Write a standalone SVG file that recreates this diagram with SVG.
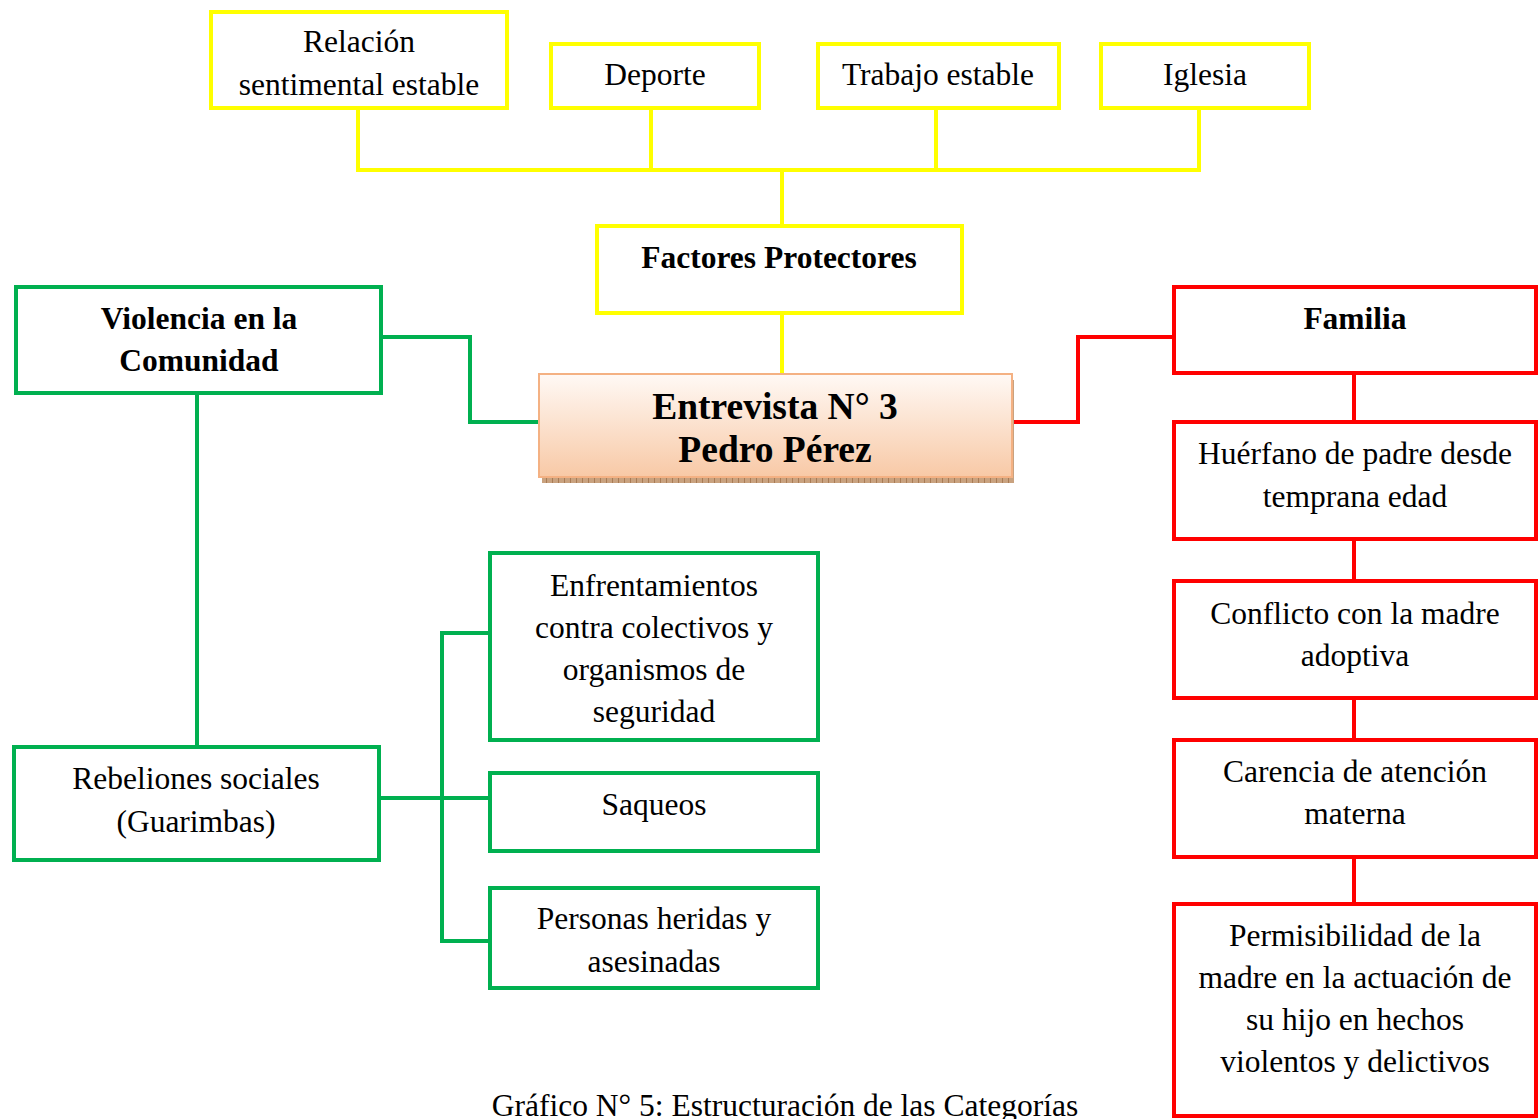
<svg xmlns="http://www.w3.org/2000/svg" width="1538" height="1119" viewBox="0 0 1538 1119">
<defs>
<style>
.t{font-family:"Liberation Serif","Times New Roman",serif;font-size:31.5px;fill:#000;text-anchor:middle}
.b{font-weight:bold}
.y{fill:#fff;stroke:#FFFF00;stroke-width:4}
.g{fill:#fff;stroke:#00B050;stroke-width:4}
.r{fill:#fff;stroke:#FF0000;stroke-width:4}
.cy{fill:none;stroke:#FFFF00;stroke-width:4}
.cg{fill:none;stroke:#00B050;stroke-width:4}
.cr{fill:none;stroke:#FF0000;stroke-width:4}
</style>
<linearGradient id="peach" x1="0" y1="0" x2="0" y2="1">
<stop offset="0" stop-color="#FFF9F5"/>
<stop offset="1" stop-color="#F8C9A6"/>
</linearGradient>
<pattern id="sh" width="6" height="6" patternUnits="userSpaceOnUse">
<rect width="6" height="6" fill="#C9A27F"/>
<rect x="0" y="0" width="1" height="6" fill="#A87B55"/>
</pattern>
</defs>
<rect width="1538" height="1119" fill="#fff"/>
<g id="connectors">
<polyline class="cy" points="358,108 358,170 1199,170 1199,108"/>
<line class="cy" x1="651" y1="108" x2="651" y2="170"/>
<line class="cy" x1="936" y1="108" x2="936" y2="170"/>
<line class="cy" x1="782" y1="170" x2="782" y2="226"/>
<line class="cy" x1="782" y1="313" x2="782" y2="374"/>
<polyline class="cg" points="381,337 470,337 470,422 539,422"/>
<line class="cg" x1="197" y1="393" x2="197" y2="747"/>
<line class="cg" x1="379" y1="798" x2="490" y2="798"/>
<polyline class="cg" points="490,633 442,633 442,941 490,941"/>
<polyline class="cr" points="1013,422 1078,422 1078,337 1174,337"/>
<line class="cr" x1="1354" y1="373" x2="1354" y2="422"/>
<line class="cr" x1="1354" y1="539" x2="1354" y2="581"/>
<line class="cr" x1="1354" y1="698" x2="1354" y2="740"/>
<line class="cr" x1="1354" y1="857" x2="1354" y2="904"/>
</g>
<g id="n-relacion"><rect class="y" x="211" y="12" width="296" height="96"/><text class="t" x="359" y="52">Relación</text><text class="t" x="359" y="95">sentimental estable</text></g>
<g id="n-deporte"><rect class="y" x="551" y="44" width="208" height="64"/><text class="t" x="655" y="85">Deporte</text></g>
<g id="n-trabajo"><rect class="y" x="818" y="44" width="241" height="64"/><text class="t" x="938" y="85">Trabajo estable</text></g>
<g id="n-iglesia"><rect class="y" x="1101" y="44" width="208" height="64"/><text class="t" x="1205" y="85">Iglesia</text></g>
<g id="n-factores"><rect class="y" x="597" y="226" width="365" height="87"/><text class="t b" x="779" y="268">Factores Protectores</text></g>
<g id="n-entrevista">
<rect x="542" y="380" width="472" height="103" fill="url(#sh)"/>
<rect x="539" y="374" width="473" height="103" fill="url(#peach)" stroke="#F4B183" stroke-width="2"/>
<text class="t b" x="775" y="419" style="font-size:37.5px">Entrevista N° 3</text>
<text class="t b" x="775" y="462" style="font-size:37.5px">Pedro Pérez</text>
</g>
<g id="n-violencia"><rect class="g" x="16" y="287" width="365" height="106"/><text class="t b" x="199" y="329">Violencia en la</text><text class="t b" x="199" y="371">Comunidad</text></g>
<g id="n-rebeliones"><rect class="g" x="14" y="747" width="365" height="113"/><text class="t" x="196" y="789">Rebeliones sociales</text><text class="t" x="196" y="832">(Guarimbas)</text></g>
<g id="n-enfrentamientos"><rect class="g" x="490" y="553" width="328" height="187"/><text class="t" x="654" y="596">Enfrentamientos</text><text class="t" x="654" y="638">contra colectivos y</text><text class="t" x="654" y="680">organismos de</text><text class="t" x="654" y="722">seguridad</text></g>
<g id="n-saqueos"><rect class="g" x="490" y="773" width="328" height="78"/><text class="t" x="654" y="815">Saqueos</text></g>
<g id="n-personas"><rect class="g" x="490" y="888" width="328" height="100"/><text class="t" x="654" y="929">Personas heridas y</text><text class="t" x="654" y="972">asesinadas</text></g>
<g id="n-familia"><rect class="r" x="1174" y="287" width="362" height="86"/><text class="t b" x="1355" y="329">Familia</text></g>
<g id="n-huerfano"><rect class="r" x="1174" y="422" width="362" height="117"/><text class="t" x="1355" y="464">Huérfano de padre desde</text><text class="t" x="1355" y="507">temprana edad</text></g>
<g id="n-conflicto"><rect class="r" x="1174" y="581" width="362" height="117"/><text class="t" x="1355" y="624">Conflicto con la madre</text><text class="t" x="1355" y="666">adoptiva</text></g>
<g id="n-carencia"><rect class="r" x="1174" y="740" width="362" height="117"/><text class="t" x="1355" y="782">Carencia de atención</text><text class="t" x="1355" y="824">materna</text></g>
<g id="n-permisibilidad"><rect class="r" x="1174" y="904" width="362" height="212"/><text class="t" x="1355" y="946">Permisibilidad de la</text><text class="t" x="1355" y="988">madre en la actuación de</text><text class="t" x="1355" y="1030">su hijo en hechos</text><text class="t" x="1355" y="1072">violentos y delictivos</text></g>
<text class="t" x="785" y="1116">Gráfico N° 5: Estructuración de las Categorías</text>
</svg>
